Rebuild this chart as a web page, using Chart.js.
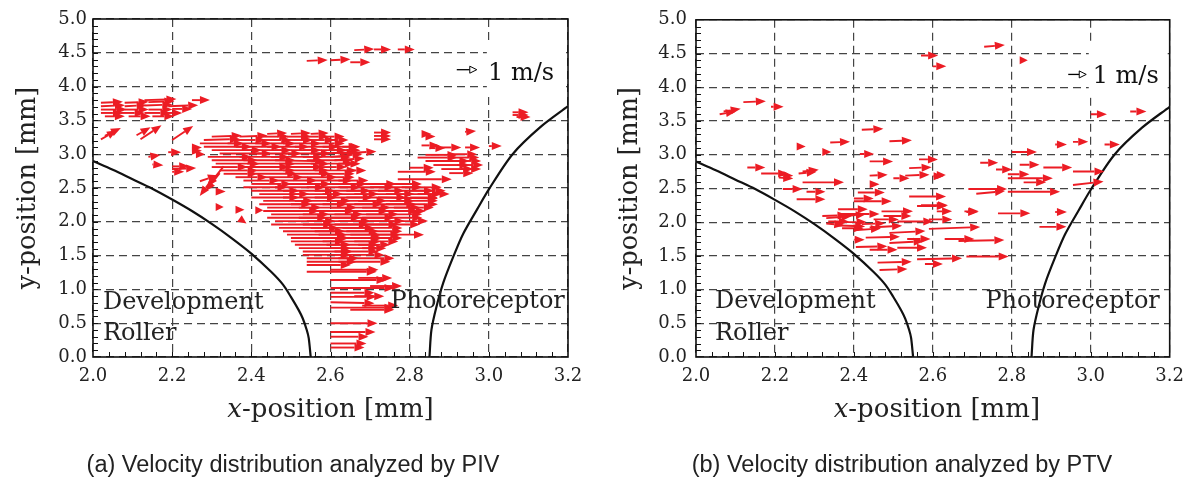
<!DOCTYPE html>
<html>
<head>
<meta charset="utf-8">
<script src="https://cdn.jsdelivr.net/npm/chart.js@4.4.1/dist/chart.umd.min.js"></script>
<style>
  html, body { margin: 0; padding: 0; background: #fff; }
  #wrap { position: relative; width: 1193px; height: 483px; overflow: hidden; }
  .panel { position: absolute; top: 0; }
  .caption { position: absolute; top: 451px; font-family: "Liberation Sans", Arial, sans-serif;
             font-size: 23.5px; color: #222; white-space: nowrap; transform: translateX(-50%); }
</style>
</head>
<body>
<div id="wrap">
  <div class="panel" style="left:0px"><canvas id="chartPiv" width="596" height="483"></canvas></div>
  <div class="panel" style="left:596px"><canvas id="chartPtv" width="597" height="483"></canvas></div>
  <div class="caption" style="left:293px">(a) Velocity distribution analyzed by PIV</div>
  <div class="caption" style="left:902px">(b) Velocity distribution analyzed by PTV</div>
</div>
<script>
// Velocity vectors: [x mm, y mm, u m/s, v m/s]

// ---- (a) PIV
const pivTopArrows = [
  [2.54,4.38,1.05,0.05],[2.60,4.39,1.0,0.05],[2.65,4.36,1.0,0],
  [2.66,4.54,1.0,0.05],[2.71,4.55,0.85,0],[2.77,4.55,0.85,0]
];

const pivLeftArrows = [
  [2.02,3.76,1.1,0.05],[2.08,3.76,1.2,0.05],[2.14,3.77,1.3,0.05],
  [2.02,3.71,1.2,0.05],[2.08,3.71,1.1,0.05],[2.13,3.72,1.4,0.05],[2.19,3.71,1.5,0.05],
  [2.02,3.66,1.3,0],[2.08,3.66,1.2,0],[2.14,3.66,1.2,0],[2.20,3.67,1.0,0],
  [2.02,3.61,1.1,0],[2.07,3.61,1.2,0],[2.13,3.61,1.3,0],[2.18,3.61,0.9,0],
  [2.03,3.56,1.0,0],[2.09,3.56,1.1,0],[2.15,3.56,1.1,0],
  [2.13,3.80,1.6,0.05],[2.25,3.80,0.9,0],
  [2.02,3.22,0.8,0.45],[2.03,3.27,0.8,0.4],[2.12,3.22,1.05,0.7],[2.11,3.28,0.7,0.4],[2.20,3.21,1.05,0.7],
  [2.14,2.96,0.6,0.1],[2.15,2.85,0.55,-0.05],[2.19,3.03,0.65,0],[2.25,3.10,0.5,0],[2.25,3.05,0.5,0],
  [2.26,3.00,0.45,0],[2.20,2.82,0.85,0],[2.20,2.74,0.6,0],[2.20,2.78,1.2,0.05],
  [2.31,2.22,0.4,0],[2.36,2.18,0.45,0],[2.37,2.05,0.35,-0.25],[2.41,2.17,0.4,0],[2.31,2.45,0.5,0],
  [2.33,2.82,-0.8,-1.0],[2.32,2.72,-0.7,-0.9],[2.30,2.62,-0.6,-0.8],[2.27,2.60,0.9,0.3]
];

const pivCoreArrows = [
  [2.44,3.30,1.0,0.05],[2.50,3.30,1.0,0.05],[2.55,3.30,0.9,0.05],
  [2.30,3.26,1.5,0.05],[2.37,3.26,1.4,0.05],[2.43,3.26,1.3,0],[2.49,3.26,1.2,0],[2.54,3.26,1.1,0],[2.59,3.26,0.9,0],
  [2.28,3.21,1.8,0.05],[2.35,3.21,1.7,0],[2.42,3.21,1.6,0],[2.48,3.21,1.5,0],[2.54,3.21,1.4,0],[2.60,3.21,0.9,0],
  [2.27,3.16,2.2,0],[2.34,3.16,2.2,0],[2.41,3.16,2.0,0],[2.48,3.16,1.9,0],[2.55,3.16,1.7,0],
  [2.28,3.11,2.4,0],[2.36,3.11,2.3,0],[2.44,3.11,2.1,0],[2.51,3.11,2.2,0],[2.58,3.11,1.8,0],[2.63,3.11,0.9,0],
  [2.30,3.06,2.5,0],[2.38,3.06,2.4,0],[2.46,3.06,2.3,0],[2.53,3.06,2.2,0],[2.60,3.06,1.5,0],
  [2.32,3.01,2.6,0],[2.40,3.01,2.5,0],[2.48,3.01,2.4,0],[2.55,3.01,2.3,0.05],[2.62,3.01,1.9,0.1],
  [2.29,2.96,2.2,0],[2.37,2.96,2.5,0],[2.45,2.96,2.6,0],[2.53,2.96,2.4,0],[2.60,2.96,1.6,0.15],
  [2.30,2.91,2.3,0],[2.38,2.91,2.6,0],[2.46,2.91,2.5,-0.05],[2.54,2.91,2.3,0],[2.61,2.91,1.5,0.1],
  [2.31,2.86,2.2,0],[2.39,2.86,2.4,0],[2.47,2.86,2.5,0],[2.55,2.86,2.2,0],[2.62,2.86,1.1,0],
  [2.30,2.81,1.8,0],[2.38,2.81,2.3,0],[2.46,2.81,2.4,0],[2.54,2.81,2.0,0],
  [2.32,2.76,1.9,0],[2.40,2.76,2.2,0],[2.48,2.76,2.3,0],[2.56,2.76,2.1,0],[2.64,2.76,1.0,0],
  [2.33,2.71,1.7,0],[2.41,2.71,2.1,0],[2.49,2.71,2.2,0],[2.57,2.71,1.8,0],
  [2.36,2.66,1.6,0],[2.43,2.66,2.0,0],[2.51,2.66,2.1,0],[2.59,2.66,1.4,0],
  [2.38,2.61,1.8,0],[2.46,2.61,2.1,0],[2.54,2.61,2.3,0],[2.62,2.61,1.5,0],
  [2.40,2.56,2.0,0],[2.48,2.56,2.4,0],[2.56,2.56,2.6,0],[2.64,2.56,2.5,0],[2.72,2.56,2.2,0],
  [2.38,2.51,2.2,0],[2.46,2.51,2.5,0],[2.54,2.51,2.7,0],[2.62,2.51,2.8,0],[2.70,2.51,2.6,0],[2.78,2.51,2.0,0],
  [2.40,2.46,2.4,0],[2.48,2.46,2.6,0],[2.56,2.46,2.8,0],[2.64,2.46,2.9,0],[2.72,2.46,2.8,0],[2.80,2.46,1.8,0],
  [2.42,2.41,2.5,0],[2.50,2.41,2.6,0],[2.58,2.41,2.8,0],[2.66,2.41,3.0,0],[2.74,2.41,2.8,0],[2.82,2.41,1.6,0],
  [2.40,2.36,2.4,0],[2.48,2.36,2.7,0],[2.56,2.36,2.9,0],[2.64,2.36,3.0,0],[2.72,2.36,3.0,-0.05],[2.80,2.36,1.4,0],
  [2.43,2.31,2.5,0],[2.51,2.31,2.8,0],[2.59,2.31,3.0,0],[2.67,2.31,2.8,0],[2.75,2.31,2.4,0],
  [2.42,2.26,2.6,0],[2.50,2.26,2.8,0],[2.58,2.26,3.0,0],[2.66,2.26,3.1,0],[2.74,2.26,2.6,0],
  [2.44,2.21,2.7,0],[2.52,2.21,2.9,0],[2.60,2.21,3.0,0],[2.68,2.21,2.9,0],[2.76,2.21,2.0,0],
  [2.43,2.16,2.8,0],[2.51,2.16,3.0,0],[2.59,2.16,3.1,0],[2.67,2.16,3.0,0],[2.75,2.16,1.8,0],
  [2.45,2.11,2.9,0],[2.53,2.11,3.0,0],[2.61,2.11,3.2,0],[2.69,2.11,2.8,0],
  [2.44,2.06,3.0,0],[2.52,2.06,3.1,0],[2.60,2.06,3.2,0],[2.68,2.06,3.0,0],
  [2.46,2.01,3.0,0],[2.54,2.01,3.2,0],[2.62,2.01,3.3,0],[2.70,2.01,2.9,0],
  [2.45,1.96,3.1,0],[2.53,1.96,3.3,0],[2.61,1.96,3.2,0],[2.69,1.96,2.7,0],
  [2.47,1.91,3.0,0],[2.55,1.91,3.2,0],[2.63,1.91,3.0,0],
  [2.48,1.86,3.1,0],[2.56,1.86,3.2,0],[2.64,1.86,2.8,0],
  [2.49,1.81,3.0,0],[2.57,1.81,3.1,0],[2.65,1.81,2.5,0],[2.72,1.81,2.3,0],
  [2.50,1.76,2.9,0],[2.58,1.76,3.0,0],[2.66,1.76,2.4,0],
  [2.50,1.71,2.7,0],[2.58,1.71,2.9,0],[2.66,1.71,2.2,0],
  [2.51,1.66,2.8,0],[2.59,1.66,2.6,0],[2.67,1.66,1.6,0],
  [2.52,1.61,2.6,0],[2.60,1.61,2.4,0],[2.68,1.61,1.2,0],
  [2.53,1.56,2.5,0],[2.61,1.56,2.2,0],
  [2.53,1.51,2.4,0],[2.61,1.51,2.5,0],
  [2.54,1.46,2.6,0],[2.62,1.46,2.8,0],
  [2.54,1.41,2.5,0],[2.62,1.41,2.6,0],
  [2.54,1.36,2.2,0]
];

const pivRightArrows = [
  [3.06,3.62,0.8,0],[3.06,3.58,0.8,0],[3.07,3.55,0.7,0],
  [2.71,3.32,0.85,0],[2.71,3.27,0.85,0],[2.71,3.22,0.85,0],
  [2.83,3.30,0.5,0],[2.84,3.26,0.5,0],[2.94,3.33,0.55,0.05],
  [2.83,3.13,0.9,0],[2.85,3.09,0.8,0],[2.88,3.10,1.0,0],[2.94,3.10,0.75,0],[3.00,3.12,0.65,0],
  [2.84,2.99,1.6,0],[2.90,3.00,1.4,0],[2.82,2.95,2.0,0],[2.90,2.95,1.5,0],
  [2.84,2.90,2.2,0],[2.92,2.90,1.2,0],[2.86,2.84,1.8,0],[2.92,2.84,1.3,0],
  [2.88,2.78,1.6,0],[2.93,2.78,1.0,0],[2.90,2.72,1.2,0],
  [2.77,2.74,1.9,0],[2.77,2.63,2.7,0],[2.80,2.80,1.2,0]
];

const pivColumnArrows = [
  [2.54,1.26,3.5,0],[2.60,1.29,2.4,0],[2.60,1.14,2.8,0],[2.67,1.17,1.7,0],
  [2.60,1.02,3.2,0],[2.70,1.05,1.6,0],[2.60,0.95,2.2,0],[2.60,0.89,2.3,0],
  [2.66,0.90,1.5,0],[2.60,0.81,2.2,-0.05],[2.65,0.70,2.2,0],[2.60,0.73,3.2,0],
  [2.68,0.76,1.8,0],[2.60,0.50,2.35,0],[2.60,0.37,2.25,0],[2.60,0.30,1.9,0],
  [2.60,0.20,1.8,0],[2.60,0.14,1.7,0]
];

// ---- (b) PTV
const ptvUpperArrows = [
  [2.06,3.60,0.9,0.15],[2.07,3.64,0.95,0.15],[2.12,3.78,1.25,0.05],[2.19,3.71,0.7,0],
  [2.57,4.47,0.95,0],[2.60,4.31,0.75,0],[2.73,4.60,1.15,0.1],[2.82,4.40,0.45,0],
  [3.00,3.60,0.9,0],[3.10,3.64,0.9,0],
  [2.42,3.37,1.2,0.05],[2.49,3.20,1.25,0.05],[2.34,3.18,1.1,0.05],[2.255,3.12,0.5,0],
  [2.32,3.04,0.5,0],[2.415,3.01,0.8,0],[2.44,2.90,1.3,0],[2.565,2.93,1.05,0],
  [2.54,2.80,1.25,0.05],[2.60,2.68,0.6,0],[2.53,2.69,1.35,0.05],[2.50,2.65,0.9,0],
  [2.44,2.69,1.0,0.05],[2.44,2.56,0.55,0],[2.61,2.70,0.5,0],
  [2.91,3.15,0.65,0],[2.955,3.19,0.85,0],[3.035,3.15,0.85,0],[2.80,3.04,1.4,0],
  [2.72,2.88,1.0,0],[2.76,2.78,0.9,0],[2.82,2.85,1.1,0],[2.88,2.81,1.6,0],
  [2.955,2.75,1.75,0],[2.79,2.71,1.2,0],[2.79,2.65,2.5,0],[2.83,2.59,1.25,0],
  [2.955,2.55,1.7,0.2],[2.69,2.49,2.15,0],[2.71,2.42,1.6,0.15],[2.79,2.45,2.9,0],
  [2.54,2.38,2.05,0],[2.57,2.25,1.5,0],[2.685,2.15,0.65,0],[2.765,2.13,1.8,0],
  [2.91,2.15,0.65,0],[2.87,1.93,1.5,0]
];

const ptvLowerArrows = [
  [2.13,2.81,1.0,0],[2.165,2.72,1.5,0],[2.21,2.70,0.8,-0.05],[2.21,2.66,0.8,-0.05],
  [2.26,2.72,1.0,0.1],[2.27,2.75,0.9,0.1],[2.22,2.49,1.1,0],[2.27,2.59,2.3,0],
  [2.28,2.45,1.05,0],[2.255,2.34,1.6,0],
  [2.41,2.44,1.5,0],[2.40,2.35,1.1,0],[2.40,2.31,2.1,0],[2.36,2.19,1.65,0],
  [2.32,2.09,1.4,0.05],[2.335,2.01,1.15,0],[2.36,2.12,2.3,0],[2.37,1.91,1.2,0],
  [2.40,1.74,0.6,0],[2.43,1.77,1.9,0.05],[2.405,1.63,1.75,0.05],[2.44,1.59,1.55,0],
  [2.46,1.40,1.9,0.05],[2.465,1.29,1.55,0.05],[2.47,2.16,1.75,0],[2.475,2.09,1.55,0],
  [2.51,2.01,2.0,0],[2.49,1.84,2.0,0.1],[2.535,1.75,1.3,0],[2.49,1.69,1.9,0.1],
  [2.51,1.62,1.65,0],[2.56,1.45,2.5,0.05],[2.58,1.38,1.0,0],[2.59,2.04,1.3,0],
  [2.59,1.90,2.85,0.1],[2.63,1.75,1.65,0],[2.665,1.72,2.55,0.05],[2.685,1.49,2.35,0],
  [2.61,2.16,0.85,0],[2.68,2.16,0.8,0],[2.56,2.24,1.65,0],
  [2.33,2.06,1.4,0.1],[2.35,2.00,1.8,0],[2.36,1.95,1.5,-0.05],[2.33,1.98,1.0,-0.1],
  [2.40,1.88,1.5,0.1],[2.42,1.97,1.3,0.05],[2.44,1.92,1.8,0.1],[2.45,2.04,1.4,0],
  [2.38,2.09,1.1,0.1]
];

// ---- boundaries (mm)
const devRollerX = [2.0,2.05,2.1,2.15,2.2,2.25,2.3,2.35,2.4,2.45,2.48,2.5,2.52,2.53,2.54,2.545,2.55];
const devRollerY = [2.90,2.77,2.63,2.49,2.33,2.16,1.97,1.76,1.53,1.26,1.07,0.89,0.69,0.57,0.40,0.28,0.0];
const photoX = [2.85,2.855,2.868,2.885,2.91,2.935,2.97,3.0,3.06,3.13,3.2];
const photoY = [0.0,0.40,0.75,1.10,1.48,1.82,2.18,2.48,3.0,3.40,3.71];

// ---- axis ticks
const xTickStep = 0.2;
const yTickStep = 0.5;

const RED = '#ec1c24';

function drawArrow(ctx, x0, y0, dx, dy, headLen, headW) {
  const len = Math.hypot(dx, dy);
  if (len < 0.5) return;
  const ux = dx / len, uy = dy / len;
  const hl = Math.min(headLen, len);
  const bx = x0 + dx - ux * hl, by = y0 + dy - uy * hl;
  if (len > hl) {
    ctx.beginPath();
    ctx.moveTo(x0, y0);
    ctx.lineTo(bx, by);
    ctx.stroke();
  }
  ctx.beginPath();
  ctx.moveTo(x0 + dx, y0 + dy);
  ctx.lineTo(bx - uy * headW, by + ux * headW);
  ctx.lineTo(bx + uy * headW, by - ux * headW);
  ctx.closePath();
  return ctx;
}

function makeOverlay(p) {
  return {
    id: 'overlay',
    beforeDatasetsDraw(chart) {
      const {ctx, scales: {x, y}} = chart;
      const l = x.getPixelForValue(p.box[0]), r = x.getPixelForValue(p.box[1]);
      const t = y.getPixelForValue(p.box[3]), b = y.getPixelForValue(p.box[2]);
      ctx.save();
      ctx.fillStyle = '#fff';
      ctx.fillRect(l, t, r - l, b - t);
      ctx.restore();
    },
    afterDatasetsDraw(chart) {
      const {ctx, chartArea: ca, scales: {x, y}} = chart;
      ctx.save();
      ctx.beginPath();
      ctx.rect(ca.left, ca.top, ca.right - ca.left, ca.bottom - ca.top);
      ctx.clip();
      ctx.strokeStyle = RED;
      ctx.fillStyle = RED;
      ctx.lineWidth = 1.9;
      p.arrows.forEach(group => group.forEach(a => {
        const px = x.getPixelForValue(a[0]), py = y.getPixelForValue(a[1]);
        if (drawArrow(ctx, px, py, a[2] * p.unit, -a[3] * p.unit, 10, 4)) ctx.fill();
      }));
      ctx.restore();
    },
    afterDraw(chart) {
      const {ctx, chartArea: ca, scales: {x, y}} = chart;
      ctx.save();
      // frame
      ctx.strokeStyle = '#111';
      ctx.lineWidth = 1.6;
      ctx.strokeRect(ca.left, ca.top, ca.right - ca.left, ca.bottom - ca.top);
      // minor ticks
      ctx.lineWidth = 1;
      ctx.beginPath();
      for (let i = 1; i < 30; i++) {
        const px = Math.round(x.getPixelForValue(2 + i * 0.04)) + 0.5;
        ctx.moveTo(px, ca.bottom); ctx.lineTo(px, ca.bottom - 5);
      }
      for (let i = 1; i < 50; i++) {
        const py = Math.round(y.getPixelForValue(i * 0.1)) + 0.5;
        ctx.moveTo(ca.left, py); ctx.lineTo(ca.left + 5, py);
      }
      ctx.stroke();

      // reference arrow 1 m/s
      ctx.strokeStyle = '#000';
      ctx.fillStyle = '#fff';
      ctx.lineWidth = 1.3;
      const rx = x.getPixelForValue(p.refArrow[0]), ry = y.getPixelForValue(p.refArrow[1]);
      drawArrow(ctx, rx, ry, p.unit, 0, 7, 3.5);
      ctx.fill();
      ctx.lineWidth = 1;
      ctx.stroke();
      ctx.fillStyle = '#111';
      ctx.font = '24px "DejaVu Serif"';
      ctx.textAlign = 'left';
      ctx.textBaseline = 'alphabetic';
      ctx.fillText('1 m/s', x.getPixelForValue(p.refText[0]), y.getPixelForValue(p.refText[1]));

      // region labels
      ctx.fillStyle = '#222';
      p.labels.forEach(lb => {
        ctx.textAlign = lb[3];
        ctx.fillText(lb[0], x.getPixelForValue(lb[1]), y.getPixelForValue(lb[2]));
      });

      // axis titles
      ctx.fillStyle = '#222';
      ctx.textAlign = 'center';
      ctx.textBaseline = 'middle';
      ctx.font = '25.5px "DejaVu Serif"';
      ctx.save();
      ctx.translate(p.yTitleX, (ca.top + ca.bottom) / 2);
      ctx.rotate(-Math.PI / 2);
      ctx.fillText('y-position [mm]', 0, 0);
      ctx.restore();
      const it = 'italic 26px "DejaVu Serif"', rg = '26px "DejaVu Serif"';
      ctx.font = it; const w1 = ctx.measureText('x').width;
      ctx.font = rg; const w2 = ctx.measureText('-position [mm]').width;
      const cx = (ca.left + ca.right) / 2 + p.xTitleDx;
      ctx.textAlign = 'left';
      ctx.font = it; ctx.fillText('x', cx - (w1 + w2) / 2, 410);
      ctx.font = rg; ctx.fillText('-position [mm]', cx - (w1 + w2) / 2 + w1, 410);
      ctx.restore();
    }
  };
}

function buildChart(canvasId, p) {
  const curve = (xs, ys) => xs.map((v, i) => ({x: v, y: ys[i]}));
  return new Chart(document.getElementById(canvasId), {
    type: 'scatter',
    data: {
      datasets: [
        {data: curve(devRollerX, devRollerY), showLine: true, borderColor: '#111', borderWidth: 2.2,
         pointRadius: 0, tension: 0.3, fill: false},
        {data: curve(photoX, photoY), showLine: true, borderColor: '#111', borderWidth: 2.2,
         pointRadius: 0, tension: 0.3, fill: false}
      ]
    },
    options: {
      responsive: false,
      animation: false,
      devicePixelRatio: 1,
      layout: {padding: {left: 0, right: p.padRight, top: p.padTop, bottom: 0}},
      plugins: {legend: {display: false}, tooltip: {enabled: false}},
      scales: {
        x: {
          type: 'linear', min: 2.0, max: 3.2,
          afterFit: s => { s.height = 126; },
          ticks: {stepSize: xTickStep, callback: v => v.toFixed(1), color: '#222', padding: 9,
                  maxRotation: 0, font: {family: 'DejaVu Serif', size: 18}},
          grid: {color: '#444', lineWidth: 1.2, drawTicks: false},
          border: {display: false, dash: [8, 5]}
        },
        y: {
          type: 'linear', min: 0, max: 5,
          afterFit: s => { s.width = p.yAxisWidth; },
          ticks: {stepSize: yTickStep, callback: v => v.toFixed(1), color: '#222', padding: p.yPad,
                  font: {family: 'DejaVu Serif', size: 18}},
          grid: {color: '#444', lineWidth: 1.2, drawTicks: false},
          border: {display: false, dash: [8, 5]}
        }
      }
    },
    plugins: [makeOverlay(p)]
  });
}

buildChart('chartPiv', {
  arrows: [pivTopArrows, pivLeftArrows, pivCoreArrows, pivRightArrows, pivColumnArrows],
  unit: 20, padRight: 28, padTop: 19, yAxisWidth: 93, yPad: 6, yTitleX: 28, xTitleDx: 0,
  box: [2.995, 3.195, 3.85, 4.68],
  refArrow: [2.919, 4.25], refText: [2.998, 4.10],
  labels: [['Development', 2.025, 0.71, 'left'], ['Roller', 2.025, 0.25, 'left'],
           ['Photoreceptor', 3.192, 0.72, 'right']]
});

buildChart('chartPtv', {
  arrows: [ptvUpperArrows, ptvLowerArrows],
  unit: 18, padRight: 17, padTop: 17, yAxisWidth: 100, yPad: 9, yTitleX: 34, xTitleDx: 4,
  box: [2.995, 3.195, 3.85, 4.68],
  refArrow: [2.943, 4.19], refText: [3.005, 4.07],
  labels: [['Development', 2.048, 0.72, 'left'], ['Roller', 2.048, 0.25, 'left'],
           ['Photoreceptor', 3.175, 0.72, 'right']]
});
</script>
</body>
</html>
